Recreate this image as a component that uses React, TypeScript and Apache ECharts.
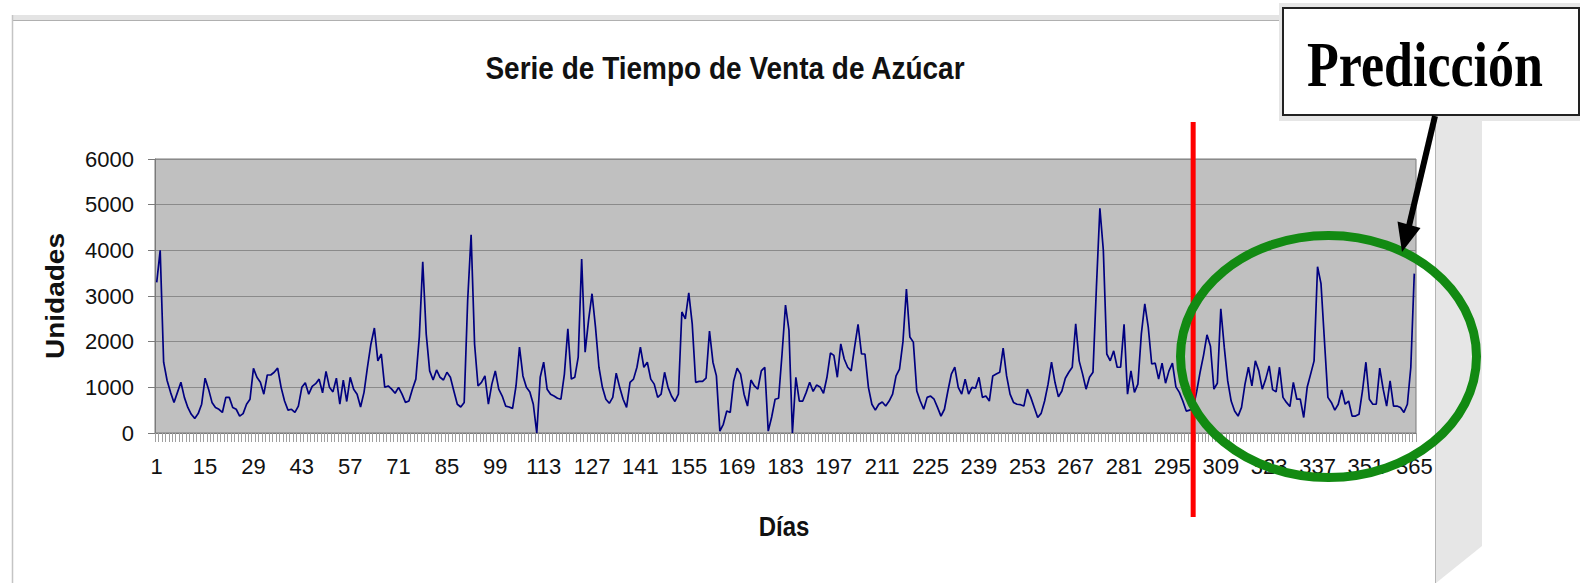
import React, { useEffect, useRef } from "react";
import * as echarts from "echarts";

// ---------- data ----------
const dias: string[] = Array.from({ length: 365 }, (_, i) => String(i + 1));

// días 1–91
const ventas1 = [
  3300, 4000, 1550, 1150, 890, 670, 890, 1110, 780, 560,
  410, 320, 425, 630, 1200, 960, 670, 560, 520, 450,
  780, 780, 560, 520, 370, 425, 630, 740, 1415, 1220,
  1110, 850, 1270, 1270, 1330, 1420, 1000, 700, 500, 520,
  450, 590, 1000, 1100, 850, 1020, 1080, 1180, 880, 1350,
  1000, 900, 1200, 630, 1160, 690, 1220, 960, 850, 570,
  890, 1440, 1950, 2300, 1580, 1730, 1000, 1030, 960, 870,
  1000, 850, 670, 700, 960, 1180, 2100, 3750, 2170, 1360,
  1160, 1380, 1220, 1160, 1330, 1220, 920, 630, 570, 670,
  2900,
];
// días 92–182
const ventas2 = [
  4340, 1950, 1030, 1110, 1250, 630, 1070, 1360, 960,
  810, 590, 570, 540, 1030, 1880, 1250, 1000, 900, 630,
  0, 1220, 1550, 960, 850, 810, 760, 740, 1290, 2280,
  1180, 1220, 1660, 3810, 1770, 2470, 3050, 2320, 1440, 1000,
  740, 650, 780, 1310, 1000, 740, 560, 1110, 1180, 1440,
  1880, 1440, 1550, 1180, 1070, 780, 850, 1330, 1000, 810,
  690, 850, 2650, 2500, 3070, 2390, 1110, 1130, 1130, 1200,
  2230, 1550, 1250, 40, 190, 480, 450, 1140, 1420, 1290,
  850, 590, 1160, 1030, 960, 1360, 1440, 40, 350, 740,
  760, 1730,
];
// días 183–273
const ventas3 = [
  2800, 2250, 0, 1220, 700, 700, 890, 1110,
  910, 1050, 1010, 870, 1220, 1750, 1700, 1220, 1950, 1620,
  1440, 1360, 1880, 2380, 1730, 1730, 1000, 630, 500, 630,
  680, 590, 700, 850, 1250, 1400, 2000, 3150, 2100, 1990,
  920, 700, 520, 780, 810, 740, 560, 370, 520, 920,
  1290, 1440, 1000, 850, 1180, 850, 1000, 980, 1220, 780,
  810, 700, 1250, 1290, 1330, 1860, 1250, 850, 670, 630,
  620, 590, 960, 780, 560, 340, 430, 700, 1070, 1550,
  1110, 790, 920, 1200, 1330, 1440, 2390, 1580, 1290, 960,
  1220, 1330, 3200,
];
// días 274–365
const ventas4 = [
  4920, 4000, 1730, 1580, 1800, 1440, 1440,
  2380, 850, 1360, 890, 1070, 2170, 2830, 2320, 1510, 1530,
  1180, 1530, 1090, 1360, 1530, 1010, 890, 700, 480, 500,
  550, 900, 1330, 1700, 2150, 1900, 960, 1090, 2720, 1880,
  1140, 700, 480, 370, 560, 1070, 1440, 1030, 1580, 1360,
  960, 1180, 1470, 950, 900, 1440, 780, 670, 580, 1110,
  740, 740, 340, 1000, 1290, 1580, 3640, 3270, 2020, 780,
  670, 500, 630, 940, 630, 700, 370, 370, 410, 920,
  1550, 740, 630, 630, 1420, 960, 590, 1140, 590, 590,
  560, 450, 630, 1440, 3490,
];
const ventas = [...ventas1, ...ventas2, ...ventas3, ...ventas4];

const titulo = "Serie de Tiempo de Venta de Azúcar";
const nombreEjeX = "Días";
const nombreEjeY = "Unidades";
const etiquetaPrediccion = "Predicción";
const diaCorte = "301";

const SANS = "'Liberation Sans', Arial, sans-serif";
const SERIF = "'Liberation Serif', 'Times New Roman', serif";

export default function App() {
  const ref = useRef<HTMLDivElement>(null);

  useEffect(() => {
    if (!ref.current) return;
    const chart = echarts.init(ref.current, null, { renderer: "svg" });
    chart.setOption({
      animation: false,
      backgroundColor: "#ffffff",
      grid: {
        left: 155,
        top: 159,
        width: 1261,
        height: 274,
        show: true,
        backgroundColor: "#c0c0c0",
        borderColor: "#7a7a7a",
        borderWidth: 1,
      },
      xAxis: {
        type: "category",
        data: dias,
        boundaryGap: true,
        axisLine: { show: true, lineStyle: { color: "#7a7a7a", width: 1 } },
        axisTick: { show: true, interval: 0, length: 9, lineStyle: { color: "#a0a0a0", width: 1 } },
        axisLabel: {
          interval: 13,
          margin: 22,
          fontSize: 22,
          fontFamily: SANS,
          color: "#111",
        },
        splitLine: { show: false },
      },
      yAxis: {
        type: "value",
        min: 0,
        max: 6000,
        interval: 1000,
        axisLine: { show: true, lineStyle: { color: "#7a7a7a", width: 1 } },
        axisTick: { show: true, length: 7, lineStyle: { color: "#7a7a7a" } },
        axisLabel: {
          margin: 21,
          fontSize: 22,
          fontFamily: SANS,
          color: "#111",
          formatter: (v: number) => String(v),
        },
        splitLine: { show: true, lineStyle: { color: "#8a8a8a", width: 1 } },
      },
      series: [
        {
          type: "line",
          data: ventas,
          showSymbol: false,
          symbol: "none",
          lineStyle: { color: "#000080", width: 1.7 },
          z: 3,
        },
      ],
    });

    const xCorte = chart.convertToPixel({ xAxisIndex: 0 }, diaCorte) as number;

    chart.setOption({
      graphic: [
        // chart frame
        { type: "rect", z: 1, shape: { x: 12, y: 15, width: 1271, height: 5 }, style: { fill: "#e4e4e4" } },
        { type: "line", z: 1, shape: { x1: 12, y1: 20.5, x2: 1283, y2: 20.5 }, style: { stroke: "#b0b0b0", lineWidth: 1 } },
        { type: "line", z: 1, shape: { x1: 12.5, y1: 15, x2: 12.5, y2: 583 }, style: { stroke: "#c4c4c4", lineWidth: 1.5 } },
        { type: "polygon", z: 1, shape: { points: [[1436, 119], [1482, 119], [1482, 546], [1436, 583]] }, style: { fill: "#e6e6e6" } },
        { type: "line", z: 1, shape: { x1: 1435.5, y1: 115, x2: 1435.5, y2: 583 }, style: { stroke: "#b4b4b4", lineWidth: 1 } },
        // title and axis names
        {
          type: "text", z: 5, x: 725, y: 68, scaleY: 1.12,
          style: { text: titulo, fontSize: 28, fontWeight: "bold", fontFamily: SANS, fill: "#111", textAlign: "center", textVerticalAlign: "middle", align: "center", verticalAlign: "middle" },
        },
        {
          type: "text", z: 5, x: 56, y: 296, rotation: Math.PI / 2, scaleX: 1.12,
          style: { text: nombreEjeY, fontSize: 25, fontWeight: "bold", fontFamily: SANS, fill: "#111", textAlign: "center", textVerticalAlign: "middle", align: "center", verticalAlign: "middle" },
        },
        {
          type: "text", z: 5, x: 784, y: 527, scaleY: 1.12,
          style: { text: nombreEjeX, fontSize: 24, fontWeight: "bold", fontFamily: SANS, fill: "#111", textAlign: "center", textVerticalAlign: "middle", align: "center", verticalAlign: "middle" },
        },
        // cut line
        { type: "rect", z: 50, shape: { x: xCorte - 2.5, y: 122, width: 5, height: 395 }, style: { fill: "#ff0000" } },
        // ellipse
        { type: "ellipse", z: 60, shape: { cx: 1328.5, cy: 356.5, rx: 148, ry: 121 }, style: { fill: "none", stroke: "#128a12", lineWidth: 9 } },
        // prediction box
        { type: "rect", z: 70, shape: { x: 1279, y: 3, width: 301, height: 118 }, style: { fill: "#e6e6e6" } },
        { type: "rect", z: 71, shape: { x: 1283, y: 8, width: 296, height: 107 }, style: { fill: "#ffffff", stroke: "#222222", lineWidth: 2 } },
        {
          type: "text", z: 72, x: 1425, y: 65, scaleY: 1.2,
          style: { text: etiquetaPrediccion, fontSize: 52, fontWeight: "bold", fontFamily: SERIF, fill: "#000", textAlign: "center", textVerticalAlign: "middle", align: "center", verticalAlign: "middle" },
        },
        // arrow
        { type: "line", z: 80, shape: { x1: 1435, y1: 116, x2: 1409, y2: 226 }, style: { stroke: "#000", lineWidth: 6 } },
        { type: "polygon", z: 80, shape: { points: [[1402, 252], [1397.5, 221.5], [1420.5, 228]] }, style: { fill: "#000" } },
      ],
    });

    return () => chart.dispose();
  }, []);

  return (
    <div
      ref={ref}
      style={{ position: "absolute", left: 0, top: 0, width: 1580, height: 583, background: "#fff" }}
    />
  );
}
